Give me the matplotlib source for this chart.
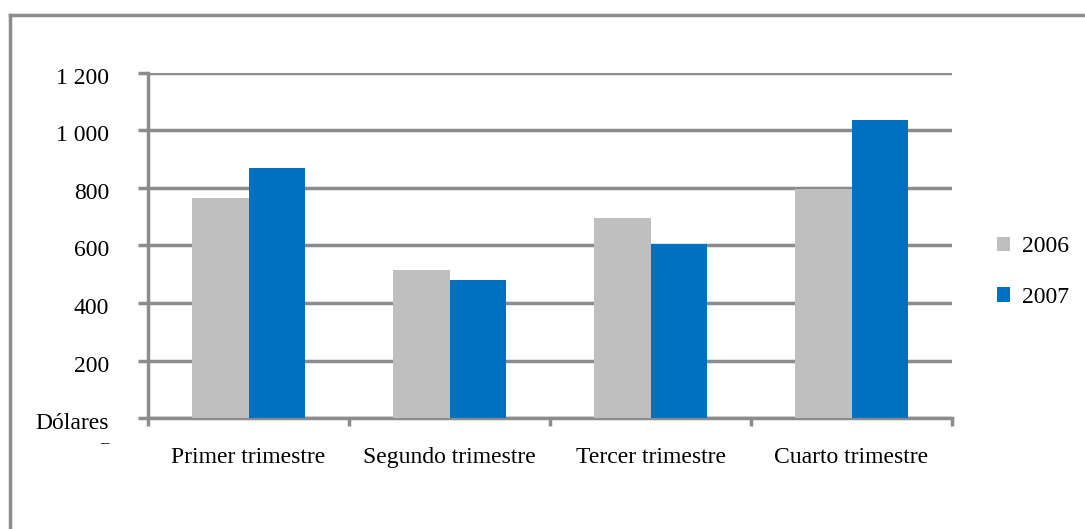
import matplotlib.pyplot as plt
import numpy as np
from matplotlib.ticker import FuncFormatter
from matplotlib.lines import Line2D
from matplotlib.transforms import ScaledTranslation

categories = ["Primer trimestre", "Segundo trimestre", "Tercer trimestre", "Cuarto trimestre"]
vals_2006 = [765, 515, 695, 795]
vals_2007 = [870, 480, 605, 1035]
series_labels = ["2006", "2007"]
yticks = [0, 200, 400, 600, 800, 1000, 1200]

plt.rcParams['font.family'] = ['Liberation Serif', 'DejaVu Serif']
gray_line = '#8c8c8c'
fs = 17

W, H = 1085, 529
fig = plt.figure(figsize=(W / 100, H / 100), dpi=100)

# outer frame (only top and left visible)
fig.add_artist(Line2D([10 / W, 10 / W], [0, 1 - 15 / H], color=gray_line, lw=2.5,
                      transform=fig.transFigure))
fig.add_artist(Line2D([10 / W, 1], [1 - 15 / H, 1 - 15 / H], color=gray_line, lw=2.5,
                      transform=fig.transFigure))

ax = fig.add_axes([148 / W, 111 / H, (952 - 148) / W, (418 - 73) / H])

x = np.arange(len(categories))
w = 0.28
ax.bar(x - w / 2, vals_2006, w, color='#bfbfbf', label=series_labels[0], zorder=3)
ax.bar(x + w / 2, vals_2007, w, color='#0070c0', label=series_labels[1], zorder=3)

ax.set_xlim(-0.5, 3.5)
ax.set_ylim(0, 1200)

for s in ['top', 'right']:
    ax.spines[s].set_visible(False)
for s in ['left', 'bottom']:
    ax.spines[s].set_color(gray_line)
    ax.spines[s].set_linewidth(2.5)

ax.set_yticks(yticks)
ax.yaxis.set_major_formatter(FuncFormatter(
    lambda v, p: 'Dólares' if v == 0 else f"{int(v):,}".replace(',', ' ')))
ax.yaxis.grid(True, color=gray_line, lw=2.5, zorder=0)
ax.set_axisbelow(True)
ax.tick_params(axis='y', length=7, width=2.5, color=gray_line, pad=21, labelsize=fs)
# labels sit a bit below their gridlines in the reference
shift = ScaledTranslation(0, -3 / 100, fig.dpi_scale_trans)
for lbl in ax.get_yticklabels():
    lbl.set_transform(lbl.get_transform() + shift)

ax.set_xticks(x)
ax.set_xticklabels(categories)
ax.set_xticks(np.arange(-0.5, 4, 1), minor=True)
ax.tick_params(axis='x', which='major', length=0, pad=21, labelsize=fs)
ax.tick_params(axis='x', which='minor', length=6, width=2.5, color=gray_line)

fig.text(104 / W, 1 - 443 / H, '–', ha='center', va='center', fontsize=12)

ax.legend(loc='center left', bbox_to_anchor=(976 / W, 1 - 272 / H),
          bbox_transform=fig.transFigure, frameon=False, fontsize=fs,
          handlelength=0.55, handleheight=0.55, handletextpad=0.5, labelspacing=1.25)

fig.savefig('out.png', dpi=100)
plt.close(fig)
